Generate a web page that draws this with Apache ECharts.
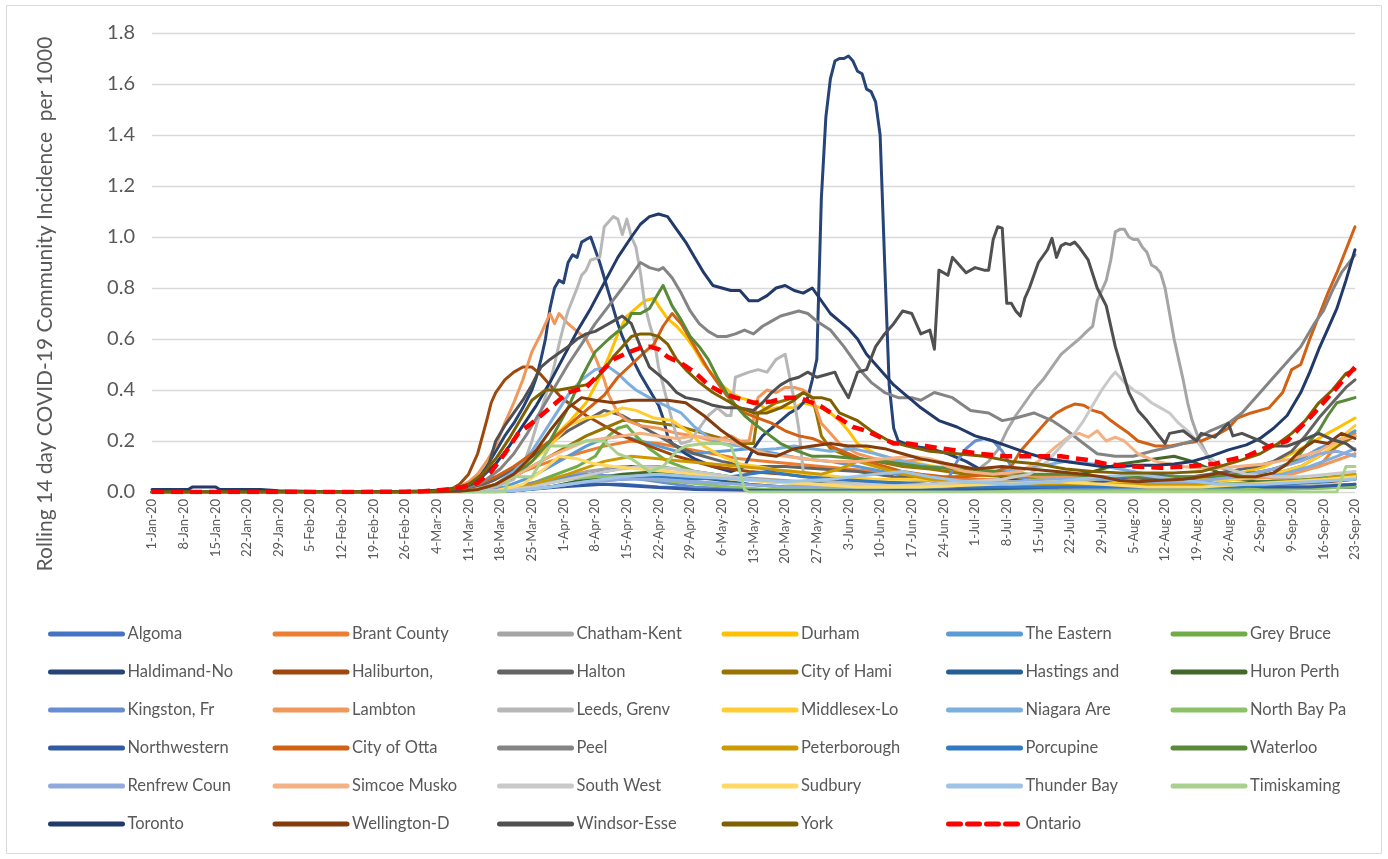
<!DOCTYPE html>
<html>
<head>
<meta charset="utf-8">
<script src="https://cdn.jsdelivr.net/npm/echarts@6/dist/echarts.min.js"></script>
<style>
  html, body { margin: 0; padding: 0; background: #ffffff; }
  #chart { width: 1388px; height: 859px; }
</style>
</head>
<body>
<div id="chart"></div>
<script>
// Each series: [day, value] where day 0 = 1-Jan-2020, value = rolling 14-day incidence per 1000.
const algoma = [[0,0],[56,0],[80,0.005],[88,0.02],[96,0.03],[104,0.03],[112,0.02],[120,0.015],[130,0.01],[150,0.005],[170,0.005],[190,0.01],[210,0.01],[230,0.01],[250,0.015],[266,0.02]];
const brantCounty = [[0,0],[56,0],[70,0.005],[76,0.03],[82,0.08],[88,0.12],[94,0.15],[100,0.18],[106,0.2],[112,0.19],[118,0.17],[124,0.15],[130,0.13],[136,0.12],[142,0.11],[148,0.1],[154,0.09],[160,0.08],[166,0.07],[172,0.06],[180,0.05],[190,0.05],[200,0.06],[210,0.06],[220,0.05],[230,0.05],[240,0.06],[248,0.07],[254,0.09],[258,0.1],[262,0.18],[266,0.23]];
const chathamKent = [[0,0],[56,0],[72,0.005],[80,0.02],[88,0.05],[96,0.08],[104,0.1],[112,0.1],[120,0.08],[128,0.06],[136,0.05],[144,0.04],[152,0.03],[160,0.03],[168,0.04],[176,0.05],[182,0.08],[185,0.12],[187,0.165],[189,0.24],[191,0.3],[193,0.35],[195,0.4],[197,0.44],[199,0.49],[201,0.54],[203,0.57],[205,0.6],[207,0.635],[208,0.65],[209,0.75],[211,0.83],[212,0.91],[213,1.02],[214,1.03],[215,1.03],[216,1.0],[217,0.99],[218,0.99],[219,0.96],[220,0.94],[221,0.89],[222,0.88],[223,0.86],[224,0.8],[225,0.7],[226,0.6],[227,0.52],[228,0.44],[229,0.35],[230,0.28],[231,0.23],[232,0.19],[234,0.12],[237,0.09],[240,0.075],[244,0.06],[250,0.05],[256,0.05],[262,0.06],[266,0.06]];
const durham = [[0,0],[56,0],[66,0.005],[72,0.02],[76,0.05],[80,0.09],[84,0.15],[88,0.2],[92,0.27],[96,0.35],[99,0.45],[101,0.53],[103,0.62],[105,0.69],[107,0.72],[109,0.75],[111,0.76],[112,0.73],[114,0.68],[116,0.65],[118,0.61],[120,0.56],[122,0.5],[124,0.46],[126,0.42],[128,0.39],[130,0.37],[132,0.36],[134,0.35],[136,0.32],[138,0.33],[140,0.33],[142,0.33],[144,0.35],[146,0.34],[148,0.33],[150,0.31],[152,0.28],[154,0.24],[156,0.19],[158,0.17],[160,0.15],[164,0.13],[170,0.11],[176,0.09],[182,0.07],[190,0.06],[200,0.05],[210,0.05],[220,0.04],[230,0.05],[240,0.07],[246,0.1],[252,0.15],[256,0.19],[260,0.23],[263,0.26],[266,0.29]];
const theEastern = [[0,0],[56,0],[72,0.005],[78,0.02],[84,0.06],[90,0.12],[96,0.18],[100,0.21],[104,0.22],[108,0.2],[112,0.18],[116,0.16],[120,0.15],[126,0.16],[132,0.17],[138,0.15],[144,0.13],[150,0.12],[156,0.1],[162,0.08],[168,0.06],[176,0.04],[184,0.03],[192,0.03],[200,0.05],[208,0.04],[216,0.03],[224,0.03],[232,0.04],[240,0.06],[248,0.09],[254,0.13],[258,0.17],[262,0.2],[266,0.24]];
const greyBruce = [[0,0],[56,0],[76,0.005],[82,0.02],[88,0.06],[94,0.1],[98,0.14],[101,0.22],[103,0.25],[105,0.26],[107,0.22],[110,0.17],[114,0.12],[120,0.08],[128,0.06],[136,0.04],[146,0.03],[156,0.03],[166,0.03],[176,0.03],[186,0.04],[196,0.05],[206,0.04],[216,0.03],[226,0.03],[236,0.03],[246,0.04],[256,0.05],[266,0.07]];
const haldimandNorfolk = [[0,0],[56,0],[66,0.005],[70,0.02],[72,0.05],[74,0.1],[76,0.16],[78,0.22],[80,0.27],[82,0.33],[84,0.4],[85,0.45],[86,0.52],[87,0.6],[88,0.72],[89,0.8],[90,0.83],[91,0.82],[92,0.9],[93,0.93],[94,0.92],[95,0.98],[96,0.99],[97,1.0],[98,0.95],[99,0.9],[100,0.84],[101,0.78],[102,0.72],[103,0.66],[104,0.61],[105,0.57],[106,0.53],[108,0.46],[110,0.4],[112,0.34],[113,0.29],[114,0.22],[115,0.19],[116,0.18],[118,0.15],[120,0.13],[124,0.1],[128,0.08],[131,0.1],[133,0.17],[135,0.22],[137,0.25],[139,0.28],[141,0.31],[143,0.33],[145,0.37],[146,0.44],[147,0.52],[148,1.15],[149,1.47],[150,1.62],[151,1.69],[152,1.70],[153,1.70],[154,1.71],[155,1.69],[156,1.65],[157,1.64],[158,1.58],[159,1.57],[160,1.53],[161,1.4],[162,0.9],[163,0.42],[164,0.25],[165,0.2],[168,0.18],[172,0.17],[176,0.15],[180,0.12],[184,0.08],[190,0.05],[200,0.03],[210,0.02],[220,0.01],[240,0.01],[266,0.02]];
const haliburton = [[0,0],[56,0],[62,0.005],[66,0.01],[68,0.03],[70,0.07],[72,0.15],[74,0.28],[75,0.35],[76,0.39],[78,0.44],[80,0.47],[82,0.49],[84,0.49],[86,0.46],[88,0.42],[90,0.38],[92,0.35],[96,0.3],[100,0.26],[104,0.22],[110,0.18],[116,0.14],[124,0.1],[132,0.08],[140,0.07],[150,0.05],[160,0.04],[170,0.03],[185,0.02],[200,0.02],[220,0.02],[240,0.02],[252,0.03],[260,0.04],[266,0.05]];
const halton = [[0,0],[56,0],[68,0.005],[72,0.02],[76,0.05],[80,0.09],[84,0.14],[88,0.19],[92,0.24],[96,0.28],[100,0.32],[104,0.3],[108,0.26],[112,0.22],[116,0.18],[120,0.15],[126,0.12],[132,0.1],[140,0.1],[148,0.09],[156,0.08],[164,0.06],[172,0.05],[180,0.04],[190,0.04],[200,0.04],[210,0.04],[220,0.05],[230,0.06],[238,0.08],[244,0.1],[248,0.12],[252,0.16],[255,0.22],[258,0.29],[261,0.35],[264,0.41],[266,0.44]];
const cityOfHamilton = [[0,0],[56,0],[68,0.003],[72,0.01],[76,0.03],[80,0.06],[84,0.1],[88,0.14],[92,0.18],[96,0.22],[100,0.25],[104,0.28],[108,0.28],[112,0.27],[116,0.26],[120,0.24],[124,0.22],[128,0.2],[131,0.19],[133,0.19],[134,0.31],[136,0.33],[138,0.35],[140,0.36],[142,0.37],[144,0.39],[146,0.37],[147,0.3],[148,0.22],[150,0.17],[154,0.14],[160,0.12],[166,0.1],[172,0.09],[180,0.07],[190,0.06],[200,0.06],[210,0.05],[220,0.04],[230,0.04],[240,0.05],[248,0.07],[254,0.1],[258,0.14],[262,0.18],[266,0.22]];
const hastings = [[0,0],[56,0],[78,0.005],[86,0.03],[94,0.06],[100,0.08],[106,0.1],[112,0.08],[118,0.06],[124,0.05],[132,0.03],[140,0.02],[150,0.02],[160,0.02],[170,0.02],[180,0.02],[190,0.03],[200,0.04],[210,0.03],[220,0.02],[230,0.02],[240,0.03],[250,0.03],[258,0.05],[266,0.06]];
const huronPerth = [[0,0],[56,0],[80,0.005],[88,0.02],[96,0.05],[104,0.07],[112,0.08],[120,0.07],[130,0.05],[140,0.04],[150,0.03],[160,0.02],[170,0.02],[180,0.02],[190,0.03],[200,0.05],[208,0.08],[214,0.11],[218,0.12],[222,0.13],[226,0.14],[230,0.12],[234,0.09],[238,0.06],[244,0.04],[250,0.04],[258,0.05],[266,0.06]];
const kingston = [[0,0],[56,0],[72,0.003],[80,0.02],[88,0.05],[96,0.07],[104,0.06],[112,0.04],[120,0.02],[130,0.01],[140,0.01],[150,0.01],[160,0.01],[170,0.02],[176,0.05],[178,0.12],[180,0.17],[182,0.2],[184,0.21],[186,0.2],[188,0.16],[190,0.1],[192,0.06],[196,0.03],[204,0.02],[214,0.01],[230,0.01],[244,0.02],[254,0.03],[262,0.05],[266,0.06]];
const lambton = [[0,0],[56,0],[64,0.005],[68,0.02],[70,0.04],[72,0.07],[74,0.12],[76,0.18],[78,0.27],[80,0.35],[82,0.44],[84,0.55],[86,0.62],[88,0.7],[89,0.66],[90,0.7],[92,0.66],[94,0.63],[96,0.6],[98,0.53],[100,0.44],[101,0.38],[103,0.31],[105,0.28],[108,0.26],[112,0.25],[116,0.23],[120,0.22],[124,0.2],[128,0.22],[130,0.2],[132,0.2],[134,0.37],[136,0.4],[138,0.39],[140,0.41],[142,0.41],[144,0.4],[146,0.37],[147,0.32],[148,0.27],[150,0.23],[152,0.19],[156,0.15],[160,0.13],[166,0.12],[172,0.13],[178,0.1],[184,0.08],[190,0.07],[196,0.06],[202,0.06],[210,0.05],[220,0.04],[230,0.04],[240,0.05],[250,0.06],[258,0.1],[266,0.15]];
const leedsGrenville = [[0,0],[56,0],[72,0.005],[76,0.02],[80,0.05],[82,0.1],[84,0.2],[86,0.32],[88,0.43],[89,0.5],[90,0.58],[91,0.65],[92,0.71],[94,0.8],[95,0.85],[96,0.87],[97,0.91],[99,0.92],[100,1.04],[101,1.06],[102,1.08],[103,1.07],[104,1.01],[105,1.07],[106,1.0],[107,0.96],[108,0.86],[109,0.73],[110,0.66],[111,0.6],[112,0.49],[113,0.42],[114,0.35],[115,0.28],[116,0.22],[117,0.19],[119,0.2],[121,0.25],[123,0.3],[125,0.33],[127,0.3],[128,0.3],[129,0.45],[132,0.47],[134,0.48],[136,0.47],[138,0.52],[140,0.54],[141,0.45],[142,0.36],[143,0.25],[144,0.08],[146,0.05],[150,0.04],[160,0.03],[170,0.02],[180,0.02],[200,0.02],[220,0.02],[240,0.02],[266,0.03]];
const middlesexLondon = [[0,0],[56,0],[68,0.003],[72,0.01],[76,0.03],[80,0.06],[84,0.12],[88,0.18],[92,0.26],[96,0.29],[100,0.3],[104,0.33],[107,0.32],[111,0.29],[115,0.28],[119,0.23],[122,0.18],[126,0.14],[130,0.11],[134,0.1],[140,0.08],[146,0.07],[152,0.06],[160,0.05],[170,0.05],[180,0.04],[190,0.04],[200,0.05],[210,0.04],[220,0.04],[230,0.04],[240,0.05],[248,0.07],[254,0.1],[258,0.14],[262,0.19],[264,0.23],[266,0.26]];
const niagara = [[0,0],[56,0],[68,0.003],[72,0.01],[76,0.03],[80,0.08],[84,0.16],[88,0.27],[92,0.38],[95,0.44],[98,0.48],[101,0.49],[103,0.465],[105,0.43],[107,0.4],[109,0.38],[111,0.36],[114,0.335],[117,0.31],[120,0.255],[123,0.215],[126,0.19],[130,0.18],[134,0.165],[138,0.17],[142,0.18],[146,0.17],[150,0.16],[155,0.17],[160,0.15],[166,0.12],[172,0.1],[180,0.09],[188,0.08],[196,0.1],[202,0.12],[208,0.11],[214,0.09],[220,0.07],[228,0.06],[236,0.06],[244,0.06],[250,0.07],[256,0.1],[262,0.14],[266,0.17]];
const northBay = [[0,0],[56,0],[76,0],[80,0.01],[86,0.03],[92,0.05],[98,0.06],[104,0.06],[110,0.05],[116,0.04],[122,0.03],[128,0.02],[136,0.01],[150,0.01],[170,0.01],[190,0.005],[210,0.005],[230,0.01],[250,0.01],[266,0.02]];
const northwestern = [[0,0],[56,0],[80,0.005],[90,0.02],[100,0.03],[110,0.02],[120,0.01],[140,0.005],[160,0.005],[180,0.01],[200,0.02],[210,0.04],[216,0.06],[222,0.07],[228,0.05],[236,0.03],[246,0.02],[256,0.02],[266,0.03]];
const cityOfOttawa = [[0,0],[56,0],[64,0.005],[68,0.01],[72,0.03],[76,0.06],[80,0.1],[84,0.15],[88,0.2],[92,0.26],[96,0.32],[100,0.38],[103,0.45],[106,0.5],[109,0.55],[111,0.58],[113,0.65],[115,0.7],[117,0.66],[119,0.6],[121,0.54],[123,0.48],[125,0.43],[127,0.38],[129,0.34],[131,0.31],[134,0.29],[137,0.27],[140,0.24],[143,0.22],[146,0.21],[150,0.18],[154,0.15],[158,0.12],[162,0.1],[166,0.08],[170,0.07],[175,0.06],[180,0.06],[185,0.07],[188,0.09],[190,0.1],[192,0.16],[194,0.2],[196,0.24],[198,0.28],[200,0.31],[202,0.33],[204,0.345],[206,0.34],[208,0.32],[210,0.31],[212,0.28],[214,0.255],[216,0.23],[218,0.2],[220,0.19],[222,0.18],[225,0.18],[228,0.19],[232,0.2],[236,0.23],[238,0.25],[240,0.29],[243,0.31],[247,0.33],[250,0.39],[252,0.48],[254,0.5],[256,0.6],[258,0.69],[260,0.78],[262,0.86],[264,0.95],[266,1.04]];
const peel = [[0,0],[56,0.002],[64,0.005],[68,0.01],[70,0.02],[72,0.03],[74,0.05],[77,0.09],[80,0.15],[83,0.23],[86,0.32],[89,0.41],[92,0.5],[95,0.58],[98,0.66],[101,0.73],[104,0.8],[106,0.85],[108,0.9],[110,0.88],[112,0.87],[113,0.88],[115,0.84],[117,0.78],[119,0.71],[121,0.66],[123,0.63],[125,0.61],[127,0.61],[129,0.62],[131,0.635],[133,0.62],[135,0.65],[137,0.67],[139,0.69],[141,0.7],[143,0.71],[145,0.7],[147,0.67],[150,0.635],[153,0.57],[155,0.52],[157,0.47],[159,0.43],[162,0.39],[165,0.37],[168,0.37],[170,0.36],[173,0.39],[177,0.37],[181,0.32],[185,0.31],[188,0.28],[191,0.29],[195,0.31],[199,0.28],[202,0.245],[206,0.19],[209,0.15],[213,0.14],[217,0.14],[221,0.16],[226,0.18],[230,0.2],[234,0.24],[238,0.27],[241,0.31],[244,0.37],[246,0.41],[248,0.45],[251,0.51],[254,0.57],[257,0.66],[259,0.71],[261,0.79],[263,0.86],[266,0.93]];
const peterborough = [[0,0],[56,0],[76,0.005],[84,0.03],[92,0.07],[100,0.12],[106,0.14],[112,0.13],[118,0.12],[124,0.11],[130,0.1],[136,0.09],[142,0.08],[148,0.07],[152,0.09],[156,0.12],[160,0.1],[166,0.07],[172,0.05],[180,0.04],[190,0.03],[200,0.03],[210,0.03],[220,0.03],[230,0.03],[240,0.03],[250,0.04],[258,0.05],[266,0.07]];
const porcupine = [[0,0],[56,0],[80,0.005],[88,0.02],[96,0.04],[104,0.05],[112,0.06],[120,0.05],[128,0.06],[136,0.08],[144,0.06],[152,0.05],[160,0.04],[170,0.03],[180,0.02],[190,0.02],[200,0.02],[210,0.02],[220,0.02],[230,0.02],[240,0.02],[250,0.03],[258,0.04],[266,0.05]];
const waterloo = [[0,0],[56,0],[68,0.005],[72,0.01],[76,0.03],[80,0.06],[84,0.12],[88,0.2],[92,0.33],[95,0.45],[98,0.55],[101,0.6],[103,0.63],[105,0.66],[106,0.7],[108,0.7],[110,0.72],[112,0.78],[113,0.81],[114,0.77],[115,0.73],[117,0.675],[119,0.61],[121,0.57],[123,0.52],[125,0.45],[127,0.39],[129,0.34],[131,0.3],[133,0.27],[136,0.23],[139,0.19],[142,0.165],[146,0.14],[150,0.14],[156,0.13],[162,0.12],[170,0.1],[178,0.09],[186,0.08],[194,0.07],[202,0.07],[210,0.06],[218,0.06],[226,0.06],[234,0.06],[240,0.07],[246,0.08],[250,0.1],[253,0.13],[256,0.2],[258,0.24],[260,0.3],[262,0.35],[264,0.36],[266,0.37]];
const renfrew = [[0,0],[56,0],[80,0.005],[88,0.02],[96,0.04],[104,0.05],[112,0.05],[120,0.04],[130,0.03],[140,0.02],[150,0.02],[160,0.02],[170,0.02],[180,0.03],[190,0.04],[200,0.05],[210,0.05],[220,0.04],[230,0.04],[240,0.06],[248,0.09],[254,0.12],[258,0.15],[262,0.16],[266,0.14]];
const simcoeMuskoka = [[0,0],[56,0],[70,0.005],[76,0.03],[80,0.06],[84,0.1],[88,0.14],[92,0.17],[96,0.2],[100,0.21],[104,0.22],[108,0.23],[112,0.22],[116,0.21],[120,0.22],[124,0.21],[128,0.2],[132,0.17],[136,0.15],[140,0.14],[144,0.13],[150,0.12],[156,0.12],[162,0.13],[168,0.14],[172,0.13],[176,0.1],[180,0.08],[186,0.07],[192,0.08],[196,0.12],[200,0.18],[203,0.22],[205,0.23],[207,0.215],[209,0.24],[211,0.2],[213,0.215],[215,0.2],[218,0.15],[222,0.12],[228,0.1],[234,0.09],[240,0.1],[246,0.11],[252,0.13],[258,0.16],[262,0.2],[266,0.22]];
const southWest = [[0,0],[56,0],[76,0.005],[84,0.02],[92,0.05],[100,0.08],[108,0.1],[116,0.09],[124,0.07],[132,0.05],[140,0.04],[148,0.03],[156,0.03],[164,0.025],[172,0.03],[180,0.04],[188,0.05],[194,0.07],[198,0.12],[200,0.16],[202,0.2],[204,0.23],[206,0.28],[208,0.34],[210,0.4],[212,0.45],[213,0.47],[215,0.43],[217,0.4],[219,0.38],[221,0.35],[223,0.33],[225,0.31],[227,0.27],[229,0.24],[231,0.2],[233,0.15],[235,0.12],[238,0.09],[242,0.07],[248,0.06],[254,0.06],[260,0.07],[266,0.08]];
const sudbury = [[0,0],[56,0],[76,0.005],[82,0.03],[86,0.08],[90,0.14],[94,0.13],[98,0.11],[102,0.1],[108,0.09],[114,0.08],[120,0.07],[128,0.05],[136,0.04],[146,0.03],[156,0.02],[170,0.02],[186,0.03],[200,0.04],[210,0.03],[220,0.02],[232,0.02],[242,0.03],[252,0.04],[260,0.05],[266,0.06]];
const thunderBay = [[0,0],[56,0],[80,0.005],[88,0.02],[96,0.04],[104,0.06],[112,0.07],[120,0.06],[130,0.05],[140,0.04],[150,0.05],[160,0.07],[166,0.08],[172,0.06],[180,0.04],[190,0.03],[200,0.04],[210,0.06],[218,0.07],[226,0.05],[236,0.03],[246,0.03],[256,0.04],[266,0.05]];
const timiskaming = [[0,0],[56,0],[78,0],[79,0.06],[84,0.06],[86,0.12],[88,0.18],[92,0.18],[96,0.2],[100,0.2],[103,0.15],[106,0.13],[110,0.08],[113,0.1],[116,0.16],[118,0.18],[122,0.19],[126,0.19],[128,0.18],[130,0.08],[131,0.01],[132,0],[262,0],[263,0.05],[264,0.1],[266,0.1]];
const toronto = [[0,0.01],[8,0.01],[9,0.02],[14,0.02],[15,0.01],[24,0.01],[28,0.005],[42,0],[56,0.002],[60,0.004],[64,0.008],[67,0.015],[70,0.03],[73,0.06],[76,0.11],[79,0.18],[82,0.26],[85,0.34],[88,0.43],[91,0.53],[94,0.63],[97,0.72],[100,0.82],[103,0.92],[106,1.0],[108,1.05],[110,1.08],[112,1.09],[114,1.08],[116,1.03],[118,0.98],[120,0.92],[122,0.86],[124,0.81],[126,0.8],[128,0.79],[130,0.79],[132,0.75],[134,0.75],[136,0.77],[138,0.8],[140,0.81],[142,0.79],[144,0.78],[146,0.8],[148,0.75],[150,0.7],[152,0.67],[154,0.64],[156,0.6],[158,0.54],[160,0.5],[162,0.46],[164,0.42],[166,0.39],[168,0.36],[170,0.33],[174,0.28],[178,0.255],[182,0.22],[186,0.2],[190,0.175],[194,0.15],[198,0.13],[202,0.12],[206,0.11],[210,0.1],[214,0.1],[218,0.105],[222,0.105],[226,0.11],[230,0.12],[234,0.14],[238,0.165],[242,0.185],[245,0.21],[248,0.25],[251,0.3],[254,0.39],[256,0.47],[258,0.56],[260,0.64],[262,0.72],[264,0.83],[266,0.95]];
const wellingtonDufferin = [[0,0],[56,0],[68,0.003],[72,0.01],[76,0.03],[80,0.07],[84,0.14],[88,0.24],[92,0.33],[95,0.37],[98,0.36],[102,0.35],[106,0.36],[110,0.36],[114,0.36],[118,0.35],[122,0.3],[126,0.24],[130,0.19],[134,0.15],[138,0.14],[142,0.17],[146,0.18],[150,0.19],[154,0.18],[158,0.18],[162,0.17],[166,0.15],[170,0.13],[176,0.11],[182,0.09],[188,0.1],[194,0.09],[200,0.08],[206,0.07],[210,0.06],[214,0.045],[218,0.04],[222,0.045],[228,0.05],[232,0.06],[236,0.075],[240,0.06],[244,0.06],[248,0.075],[251,0.11],[254,0.165],[257,0.2],[260,0.19],[263,0.23],[266,0.21]];
const windsorEssex = [[0,0],[56,0],[64,0.005],[68,0.01],[72,0.04],[74,0.08],[76,0.2],[78,0.26],[80,0.31],[82,0.36],[84,0.42],[86,0.49],[88,0.52],[90,0.545],[92,0.57],[94,0.6],[96,0.62],[98,0.63],[100,0.65],[102,0.67],[104,0.69],[106,0.66],[108,0.57],[110,0.49],[112,0.46],[114,0.43],[116,0.39],[118,0.37],[121,0.36],[124,0.34],[127,0.33],[130,0.33],[133,0.32],[135,0.35],[137,0.39],[139,0.42],[141,0.44],[143,0.45],[145,0.47],[147,0.45],[149,0.46],[151,0.47],[152,0.43],[154,0.37],[156,0.47],[158,0.48],[160,0.57],[162,0.62],[164,0.66],[166,0.71],[168,0.7],[170,0.62],[172,0.635],[173,0.56],[174,0.87],[176,0.85],[177,0.92],[178,0.9],[180,0.86],[182,0.88],[184,0.87],[185,0.87],[186,0.99],[187,1.04],[188,1.035],[189,0.74],[190,0.74],[191,0.71],[192,0.69],[193,0.76],[194,0.8],[196,0.9],[198,0.95],[199,0.995],[200,0.92],[201,0.965],[202,0.975],[203,0.97],[204,0.98],[205,0.96],[207,0.91],[209,0.8],[211,0.73],[213,0.57],[215,0.45],[216,0.39],[218,0.32],[220,0.28],[222,0.235],[224,0.19],[225,0.23],[228,0.24],[231,0.2],[232,0.23],[235,0.215],[238,0.27],[239,0.22],[241,0.23],[243,0.215],[245,0.2],[247,0.18],[251,0.18],[254,0.2],[258,0.23],[261,0.205],[264,0.19],[266,0.165]];
const york = [[0,0],[56,0],[62,0.003],[66,0.01],[70,0.03],[73,0.07],[76,0.13],[79,0.21],[82,0.3],[84,0.36],[87,0.4],[90,0.4],[93,0.41],[96,0.42],[98,0.44],[100,0.48],[102,0.53],[104,0.57],[106,0.61],[108,0.62],[110,0.62],[112,0.61],[114,0.58],[116,0.52],[118,0.48],[121,0.43],[124,0.39],[127,0.36],[130,0.33],[133,0.31],[136,0.31],[139,0.33],[142,0.36],[144,0.39],[146,0.37],[148,0.37],[150,0.36],[152,0.31],[156,0.28],[159,0.24],[163,0.2],[167,0.18],[172,0.16],[178,0.15],[184,0.14],[190,0.12],[196,0.11],[202,0.09],[208,0.08],[214,0.075],[220,0.075],[226,0.075],[232,0.08],[236,0.1],[240,0.12],[245,0.15],[249,0.19],[252,0.23],[255,0.28],[258,0.35],[261,0.4],[264,0.465],[266,0.48]];
const ontario = [[0,0],[14,0],[28,0],[42,0],[56,0.001],[60,0.003],[63,0.006],[66,0.012],[69,0.02],[72,0.035],[75,0.08],[78,0.15],[81,0.23],[84,0.27],[86,0.3],[88,0.33],[92,0.39],[96,0.41],[99,0.465],[102,0.52],[105,0.545],[108,0.565],[110,0.57],[112,0.56],[114,0.53],[117,0.505],[120,0.47],[123,0.42],[126,0.39],[129,0.37],[133,0.35],[137,0.355],[140,0.37],[143,0.37],[146,0.35],[148,0.335],[151,0.3],[155,0.255],[158,0.24],[161,0.215],[164,0.19],[167,0.19],[171,0.18],[177,0.165],[183,0.15],[189,0.14],[195,0.14],[201,0.14],[207,0.125],[211,0.11],[217,0.1],[223,0.095],[229,0.1],[235,0.11],[238,0.125],[242,0.14],[247,0.18],[251,0.2],[254,0.255],[257,0.31],[260,0.37],[263,0.43],[266,0.49]];

const regionNames = ['Algoma','Brant County','Chatham-Kent','Durham','The Eastern','Grey Bruce',
  'Haldimand-No','Haliburton,','Halton','City of Hami','Hastings and','Huron Perth',
  'Kingston, Fr','Lambton','Leeds, Grenv','Middlesex-Lo','Niagara Are','North Bay Pa',
  'Northwestern','City of Otta','Peel','Peterborough','Porcupine','Waterloo',
  'Renfrew Coun','Simcoe Musko','South West','Sudbury','Thunder Bay','Timiskaming',
  'Toronto','Wellington-D','Windsor-Esse','York','Ontario'];
const regionData = [algoma, brantCounty, chathamKent, durham, theEastern, greyBruce,
  haldimandNorfolk, haliburton, halton, cityOfHamilton, hastings, huronPerth,
  kingston, lambton, leedsGrenville, middlesexLondon, niagara, northBay,
  northwestern, cityOfOttawa, peel, peterborough, porcupine, waterloo,
  renfrew, simcoeMuskoka, southWest, sudbury, thunderBay, timiskaming,
  toronto, wellingtonDufferin, windsorEssex, york, ontario];

// line colours, same order as regionNames
const lineColors = ['#4472C4','#ED7D31','#A5A5A5','#FFC000','#5B9BD5','#70AD47',
  '#264478','#9E480E','#636363','#997300','#255E91','#43682B',
  '#698ED0','#F1975A','#B7B7B7','#FFCD33','#7CAFDD','#8CC168',
  '#335AA1','#D26114','#848484','#CC9A00','#3179C2','#588A38',
  '#8FAADC','#F4B183','#C9C9C9','#FFD966','#9DC3E6','#A9D18E',
  '#213A6A','#843C0C','#505050','#7F6000','#FF0000'];

const MONTHS = ['Jan','Feb','Mar','Apr','May','Jun','Jul','Aug','Sep','Oct','Nov','Dec'];
function dayLabel(v) {
  if (v % 7 !== 0) return '';
  const d = new Date(2020, 0, 1 + v);
  return d.getDate() + '-' + MONTHS[d.getMonth()] + '-20';
}

const FONT = 'Lato, "Open Sans", sans-serif';
const TEXT = '#595959';

const series = regionNames.map((name, i) => {
  const isTotal = name === 'Ontario';
  return {
    name: name,
    type: 'line',
    data: regionData[i],
    symbol: 'none',
    showSymbol: false,
    silent: true,
    z: isTotal ? 5 : 2,
    itemStyle: { color: lineColors[i] },
    lineStyle: isTotal
      ? { color: lineColors[i], width: 4.5, type: [12, 7] }
      : { color: lineColors[i], width: 3, cap: 'round', join: 'round' },
    emphasis: { disabled: true }
  };
});

const chart = echarts.init(document.getElementById('chart'), null, { renderer: 'canvas' });
chart.setOption({
  animation: false,
  backgroundColor: '#ffffff',
  textStyle: { fontFamily: FONT },
  grid: { left: 152, right: 33, top: 33, bottom: 367, containLabel: false, outerBoundsMode: 'none' },
  xAxis: {
    type: 'value',
    min: 0,
    max: 266,
    interval: 7,
    axisLine: { show: false },
    axisTick: { show: false },
    splitLine: { show: false },
    axisLabel: {
      rotate: 90,
      margin: 7,
      fontSize: 13,
      color: TEXT,
      fontFamily: FONT,
      formatter: dayLabel,
      showMinLabel: true,
      showMaxLabel: true,
      hideOverlap: false
    }
  },
  yAxis: {
    type: 'value',
    min: 0,
    max: 1.8,
    interval: 0.2,
    axisLine: { show: false },
    axisTick: { show: false },
    splitLine: { show: true, lineStyle: { color: '#D9D9D9', width: 1.3 } },
    axisLabel: {
      margin: 17,
      fontSize: 20,
      color: TEXT,
      fontFamily: FONT,
      formatter: v => v.toFixed(1)
    }
  },
  legend: {
    show: true,
    left: 48,
    top: 625,
    width: 1345,
    padding: 0,
    orient: 'horizontal',
    itemWidth: 72,
    itemHeight: 18,
    itemGap: 20,
    selectedMode: false,
    itemStyle: { opacity: 0, borderWidth: 0 },
    lineStyle: { width: 5, cap: 'round' },
    textStyle: {
      color: TEXT,
      fontSize: 16.5,
      fontFamily: FONT,
      lineHeight: 18,
      width: 125,
      overflow: 'truncate'
    },
    data: regionNames
  },
  graphic: [
    {
      type: 'rect',
      silent: true,
      shape: { x: 6.5, y: 5.5, width: 1375, height: 848 },
      style: { fill: 'none', stroke: '#D9D9D9', lineWidth: 1 }
    },
    {
      type: 'text',
      silent: true,
      x: 45,
      y: 304,
      rotation: Math.PI / 2,
      style: {
        text: 'Rolling 14 day COVID-19 Community Incidence  per 1000',
        fill: TEXT,
        font: '21px ' + FONT,
        align: 'center',
        verticalAlign: 'middle'
      }
    }
  ],
  series: series
});
</script>
</body>
</html>
